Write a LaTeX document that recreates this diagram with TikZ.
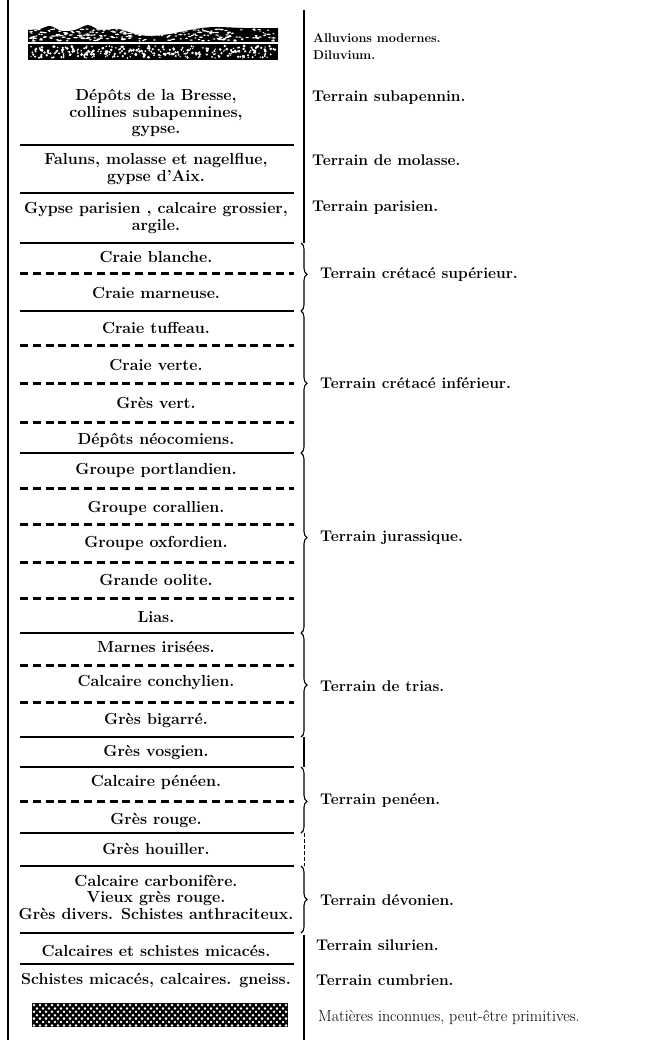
\documentclass[tikz,border=0pt]{standalone}
\usepackage{tikz}
\usetikzlibrary{decorations.pathreplacing}

\begin{document}
\begin{tikzpicture}[x=1pt, y=-1pt,
    layer/.style={align=center, inner sep=0pt, font=\bfseries\fontsize{16}{16.5}\selectfont},
    terrain/.style={anchor=west, inner sep=0pt, font=\bfseries\fontsize{15.5}{16.5}\selectfont},
    seam/.style={line width=1.2pt},
    dashseam/.style={line width=3pt, dash pattern=on 8pt off 4.8pt},
    border/.style={line width=1.5pt},
    group/.style={decorate, decoration={brace, amplitude=6pt}, line width=1.1pt}
]
\useasboundingbox (0,0) rectangle (645,1040);
\pgfmathsetseed{11}

\draw[border] (8,0) -- (8,1040);

% alluvions and diluvium
\begin{scope}
\clip plot[smooth] coordinates {(28,30) (40,29) (50,26) (62,31) (75,30) (88,25) (100,30) (118,29) (135,34) (150,36) (170,34) (195,29) (215,27) (245,28) (278,28)} -- (278,42) -- (28,42) -- cycle;
\fill (0,0) rectangle (300,42);
\foreach \k in {1,...,260}
  \fill[white] ({30+246*rnd},{29+12*rnd}) ellipse [x radius={1+1.5*rnd}, y radius=0.7];
\end{scope}
\begin{scope}
\clip (28,44) rectangle (278,60);
\fill (28,44) rectangle (278,60);
\foreach \k in {1,...,300}
  \fill[white] ({30+246*rnd},{46+12*rnd}) circle [radius={0.7+0.8*rnd}];
\end{scope}

\node[terrain, font=\bfseries\fontsize{12.7}{14}\selectfont] (alluv) at (313,38) {Alluvions modernes.};
\node[terrain, font=\bfseries\fontsize{12.7}{14}\selectfont] (diluv) at (313,55) {Diluvium.};

% layers
\node[layer] (bresse) at (156,113) {Dépôts de la Bresse,\\collines subapennines,\\gypse.};
\node[layer] (faluns) at (156,169) {Faluns, molasse et nagelflue,\\gypse d'Aix.};
\node[layer] (gypse) at (156,218) {Gypse parisien , calcaire grossier,\\argile.};
\node[layer] (blanche) at (156,257) {Craie blanche.};
\node[layer] (marneuse) at (156,293) {Craie marneuse.};
\node[layer] (tuffeau) at (156,328) {Craie tuffeau.};
\node[layer] (verte) at (156,365) {Craie verte.};
\node[layer] (gresvert) at (156,403) {Grès vert.};
\node[layer] (neocom) at (156,440) {Dépôts néocomiens.};
\node[layer] (portland) at (156,470) {Groupe portlandien.};
\node[layer] (corall) at (156,508) {Groupe corallien.};
\node[layer] (oxford) at (156,543) {Groupe oxfordien.};
\node[layer] (oolite) at (156,580) {Grande oolite.};
\node[layer] (lias) at (156,617) {Lias.};
\node[layer] (marnes) at (156,647) {Marnes irisées.};
\node[layer] (conchyl) at (156,683) {Calcaire conchylien.};
\node[layer] (bigarre) at (156,720) {Grès bigarré.};
\node[layer] (vosgien) at (156,752) {Grès vosgien.};
\node[layer] (peneen) at (156,782) {Calcaire pénéen.};
\node[layer] (rouge) at (156,820) {Grès rouge.};
\node[layer] (houiller) at (156,849) {Grès houiller.};
\node[layer] (carbon) at (156,897) {Calcaire carbonifère.\\Vieux grès rouge.\\Grès divers. Schistes anthraciteux.};
\node[layer] (micaces) at (156,951) {Calcaires et schistes micacés.};
\node[layer] (gneiss) at (156,980) {Schistes micacés, calcaires. gneiss.};

\foreach \y in {145,193,243,311,453,633,737,767,833,866,933,964}
  \draw[seam] (20,\y) -- (294,\y);
\foreach \y in {274,345,383,422,488,524,562,598,665,702,801}
  \draw[dashseam] (20,\y) -- (294,\y);

% unknown base
\begin{scope}
\clip (32,1003) rectangle (288,1027);
\fill (32,1003) rectangle (288,1027);
\foreach \i in {0,...,43}
  \foreach \j in {0,...,6}
    \fill[white] ({34+6*\i+3*mod(\j,2)},{1005+3.4*\j}) circle [radius=1.4];
\end{scope}

% right-hand grouping
\draw[border] (304,10) -- (304,243);
\draw[group, decoration={aspect=0.46}] (301,243) -- (301,311);
\draw[group, decoration={aspect=0.51}] (301,311) -- (301,453);
\draw[group, decoration={aspect=0.47}] (301,453) -- (301,633);
\draw[group, decoration={aspect=0.5}] (301,633) -- (301,737);
\draw[border] (304,737) -- (304,767);
\draw[group, decoration={aspect=0.52}] (301,767) -- (301,833);
\draw[line width=0.8pt, dash pattern=on 4pt off 2pt] (304,833) -- (304,866);
\draw[group, decoration={aspect=0.5}] (301,866) -- (301,933);
\draw[border] (304,935) -- (304,1040);

\node[terrain] (subap) at (312,98) {Terrain subapennin.};
\node[terrain] (molasse) at (312,160) {Terrain de molasse.};
\node[terrain] (paris) at (312,208) {Terrain parisien.};
\node[terrain] (cretsup) at (320,275) {Terrain crétacé supérieur.};
\node[terrain] (cretinf) at (320,383) {Terrain crétacé inférieur.};
\node[terrain] (jura) at (320,538) {Terrain jurassique.};
\node[terrain] (trias) at (320,686) {Terrain de trias.};
\node[terrain] (penee) at (320,801) {Terrain penéen.};
\node[terrain] (devon) at (320,900) {Terrain dévonien.};
\node[terrain] (silur) at (316,945) {Terrain silurien.};
\node[terrain] (cumbr) at (316,980) {Terrain cumbrien.};
\node[terrain, font=\fontsize{16}{16.5}\selectfont] (primit) at (318,1017) {Matières inconnues, peut-être primitives.};
\end{tikzpicture}
\end{document}
